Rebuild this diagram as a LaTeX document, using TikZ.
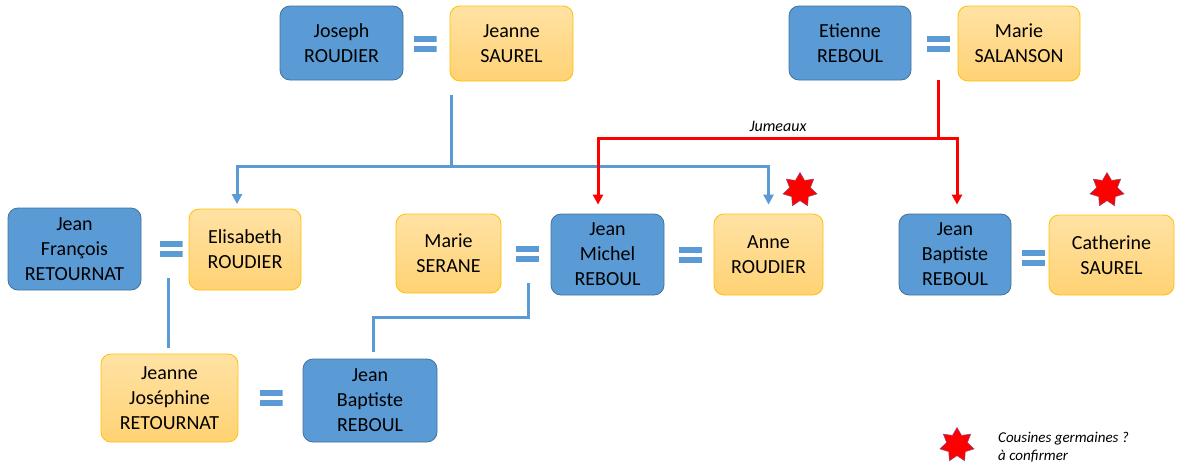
\documentclass[tikz,border=0pt]{standalone}
\usepackage{fontspec}
\setmainfont{Carlito}
\usetikzlibrary{arrows.meta,shapes.geometric}
\definecolor{homfill}{HTML}{5B9BD5}
\definecolor{homedge}{HTML}{41719C}
\definecolor{femtop}{HTML}{FFE2A4}
\definecolor{fembot}{HTML}{FFD274}
\definecolor{femedge}{HTML}{FFC000}
\definecolor{staredge}{HTML}{8A4A7A}

\begin{document}
\begin{tikzpicture}[x=1pt,y=-1pt,>={Triangle[length=10pt,width=10pt]},
  every node/.style={font=\fontsize{20}{25}\selectfont},
  homme/.style={draw=homedge,line width=0.8pt,fill=homfill,rounded corners=10pt,align=center,inner sep=0pt},
  femme/.style={draw=femedge,line width=0.8pt,top color=femtop,bottom color=fembot,rounded corners=10pt,align=center,inner sep=0pt},
  mariage/.style={inner sep=0pt,minimum width=23pt,minimum height=16pt,
    path picture={
      \fill[homfill] (path picture bounding box.north west) rectangle ([yshift=-6pt]path picture bounding box.north east);
      \fill[homfill] (path picture bounding box.south west) rectangle ([yshift=6pt]path picture bounding box.south east);}},
  famille/.style={draw=homfill,line width=3pt},
  jumeaux/.style={draw=red,line width=3pt},
  etoile/.style={star,star points=7,star point ratio=1.65,minimum size=35pt,inner sep=0pt,fill=red,draw=staredge,line width=0.5pt}]
  \useasboundingbox (0,0) rectangle (1177,472);

  % 第一代
  \node[homme,minimum width=123pt,minimum height=74pt] (joseph) at (341.5,43) {Joseph\\ROUDIER};
  \node[mariage] (m1) at (425,44) {};
  \node[femme,minimum width=123pt,minimum height=75pt] (jeanneS) at (511.5,43.5) {Jeanne\\SAUREL};
  \node[homme,minimum width=122pt,minimum height=74pt] (etienne) at (850,43) {Etienne\\REBOUL};
  \node[mariage] (m2) at (938.5,44) {};
  \node[femme,minimum width=122pt,minimum height=75pt] (marieSa) at (1019,43.5) {Marie\\SALANSON};

  % 第二代
  \node[homme,minimum width=133pt,minimum height=82pt] (jeanF) at (74.5,249) {Jean\\François\\RETOURNAT};
  \node[mariage] (m3) at (171,249) {};
  \node[femme,minimum width=112pt,minimum height=81pt] (elisabeth) at (245,249.5) {Elisabeth\\ROUDIER};
  \node[femme,minimum width=105pt,minimum height=79pt] (marieSe) at (448.5,253.5) {Marie\\SERANE};
  \node[mariage] (m4) at (527.5,253.5) {};
  \node[homme,minimum width=113pt,minimum height=81pt] (jeanM) at (607.5,254.5) {Jean\\Michel\\REBOUL};
  \node[mariage] (m5) at (690.5,254.5) {};
  \node[femme,minimum width=109pt,minimum height=81pt] (anne) at (768.5,254.5) {Anne\\ROUDIER};
  \node[homme,minimum width=112pt,minimum height=81pt] (jeanBa) at (955,254.5) {Jean\\Baptiste\\REBOUL};
  \node[mariage] (m6) at (1033.5,258) {};
  \node[femme,minimum width=125pt,minimum height=80pt] (catherine) at (1111.5,255) {Catherine\\SAUREL};

  % 第三代
  \node[femme,minimum width=137pt,minimum height=88pt] (jeanneJ) at (169.5,398) {Jeanne\\Joséphine\\RETOURNAT};
  \node[mariage] (m7) at (271,398) {};
  \node[homme,minimum width=134pt,minimum height=83pt] (jeanBb) at (370,400.5) {Jean\\Baptiste\\REBOUL};

  % 连线
  \coordinate (roudier) at (451,95);
  \coordinate (roudierHub) at (451,166);
  \coordinate (reboul) at (938,80);
  \coordinate (reboulHub) at (938,138);
  \coordinate (retournat) at (168,278);
  \coordinate (serane) at (528,283);
  \coordinate (seraneKnee) at (373,317);

  \draw[famille] (roudier) -- (roudierHub);
  \draw[famille,->,shorten >=4.5pt] (roudierHub) -| ([xshift=-8pt]elisabeth.north);
  \draw[famille,->,shorten >=9pt] (roudierHub) -| (anne.north);
  \draw[jumeaux] (reboul) -- (reboulHub);
  \draw[jumeaux,->,shorten >=9pt] (reboulHub) -| ([xshift=-9.5pt]jeanM.north);
  \draw[jumeaux,->,shorten >=9pt] (reboulHub) -| ([xshift=2pt]jeanBa.north);
  \draw[famille,shorten >=6pt] (retournat) -- (retournat |- jeanneJ.north);
  \draw[famille,shorten >=7pt] (serane) |- (seraneKnee) -- (seraneKnee |- jeanBb.north);

  \node[anchor=base,font=\fontsize{16}{19}\selectfont\itshape] (twins) at (778,131) {Jumeaux};

  % 标记
  \node[etoile] (starA) at (800,190) {};
  \node[etoile] (starC) at (1107,190) {};
  \node[etoile] (starL) at (957,445) {};
  \node[anchor=west,inner sep=0pt,align=left,font=\fontsize{15}{18}\selectfont\itshape] (legend) at (998,447) {Cousines germaines ?\\à confirmer};
\end{tikzpicture}
\end{document}
